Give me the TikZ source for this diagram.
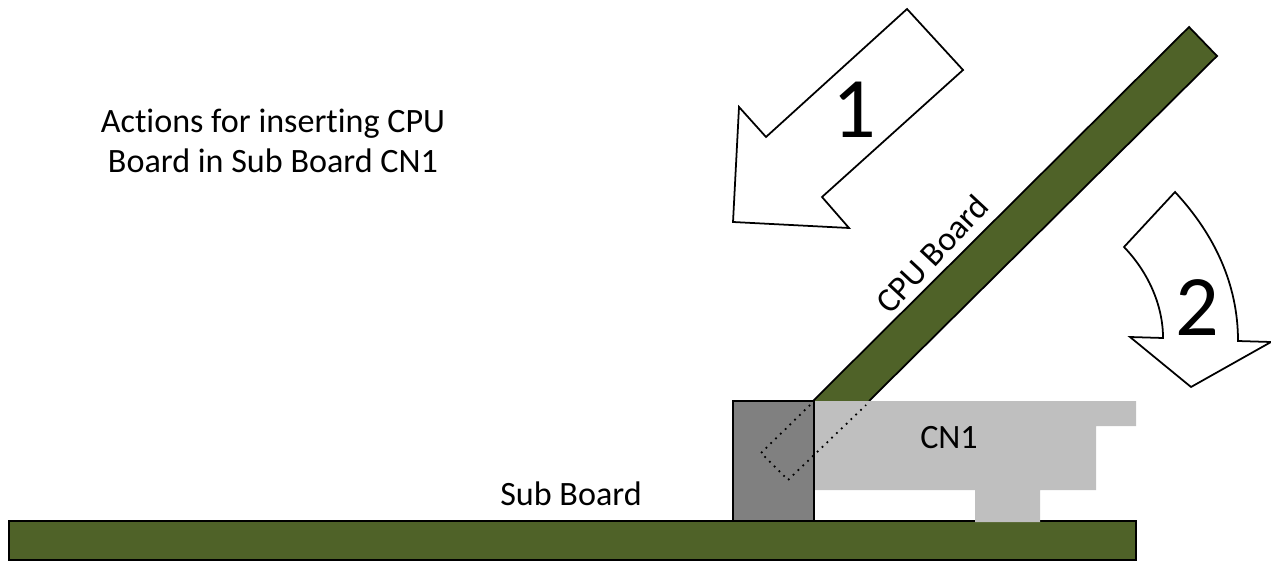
\documentclass[tikz,border=0pt]{standalone}
\usepackage{fontspec}
\setmainfont{Carlito}[RawFeature=-liga]
\definecolor{boardgreen}{HTML}{4F6228}
\definecolor{cngray}{HTML}{BFBFBF}
\definecolor{housegray}{HTML}{808080}
\tikzset{
  board/.style={draw=black, fill=boardgreen, line width=0.5pt},
  bigarrow/.style={draw=black, fill=white, line width=0.5pt, line join=miter},
  hidden/.style={black, line width=0.5pt, dash pattern=on 0.5pt off 1.4pt},
  label/.style={font=\fontsize{9.7}{11.4}\selectfont, inner sep=0pt},
  numeral/.style={font=\fontsize{24.5}{26}\selectfont, inner sep=0pt}
}
\begin{document}
\begin{tikzpicture}[x=0.01cm, y=-0.01cm]
    \useasboundingbox (0,0) rectangle (1271,561);

    \draw[board] (813,401) -- (1189,27) -- (1217,56) -- (869,401);
    \draw[board] (9,521) rectangle (1136,560);

    \fill[cngray] (814,401) -- (1136,401) -- (1136,426) -- (1096,426) -- (1096,490) -- (1040,490)
        -- (1040,522) -- (975,522) -- (975,490) -- (814,490) -- cycle;
    \filldraw[housegray, draw=black, line width=0.6pt] (733,401) rectangle (814,521);

    \draw[hidden] (810,405) -- (761,453) -- (788,480) -- (866,405);

    \draw[bigarrow] (907,9) -- (963,70) -- (822,197) -- (849,228) -- (733,222) -- (739,107) -- (766,137) -- cycle;
    \draw[bigarrow] (1175,192) .. controls (1215,235) and (1238,285) .. (1238,341)
        -- (1271,342) -- (1191,387) -- (1130,337) -- (1163,338)
        .. controls (1163,305) and (1148,272) .. (1124,247) -- cycle;

    \node[numeral] (one) at (854,110) {1};
    \node[numeral] (two) at (1197,308) {2};

    \node[label, align=center] (title) at (273,141) {Actions for inserting CPU\\Board in Sub Board CN1};
    \node[label, rotate=47] (cpu) at (932,254) {CPU Board};
    \node[label] (sub) at (571,494) {Sub Board};
    \node[label] (cn) at (949,438) {CN1};
\end{tikzpicture}
\end{document}
